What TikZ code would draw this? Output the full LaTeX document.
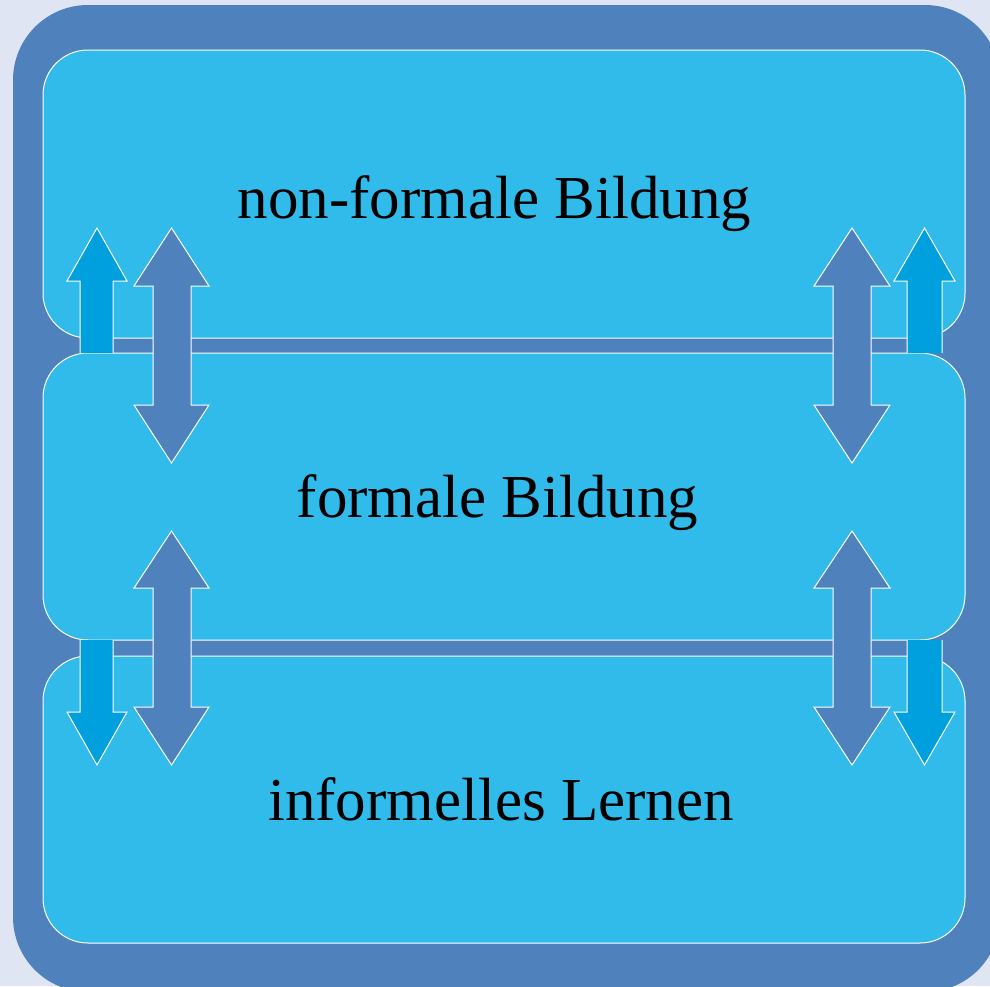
\documentclass[tikz,border=0pt]{standalone}
\usepackage{fontspec}
\setmainfont{Liberation Serif}
\definecolor{bg}{HTML}{DFE5F3}
\definecolor{frame}{HTML}{4F81BD}
\definecolor{boxfill}{HTML}{30BBEA}
\definecolor{lightarr}{HTML}{009FDE}
\begin{document}
\begin{tikzpicture}[x=1pt,y=-1pt,
  box/.style={draw=white, line width=1pt, fill=boxfill, rounded corners=45pt, inner sep=0pt, outer sep=0pt, minimum width=922pt},
  lbl/.style={font=\fontsize{61}{70}\selectfont, anchor=base, inner sep=0pt},
  darr/.style={fill=frame, draw=white, line width=1pt, line join=miter},
  larr/.style={fill=lightarr, draw=white, line width=1pt, line join=miter}]
\useasboundingbox (0,0) rectangle (990,986);
\fill[bg] (0,0) rectangle (990,986);
\begin{scope}
\clip (0,0) rectangle (990,986);
\fill[frame, rounded corners=75pt] (13,5) rectangle (1000,992);
\end{scope}
% boxes
\node[box, minimum height=288pt] (nf) at (504,194) {};
\node[box, minimum height=287pt] (fb) at (504,496.5) {};
\node[box, minimum height=287pt] (il) at (504,799.5) {};
% light single arrows
\filldraw[larr] (80,353) -- (80,281) -- (67,281) -- (97,228) -- (127,281) -- (113,281) -- (113,353);
\filldraw[larr] (907,353) -- (907,281) -- (894,281) -- (924.5,228) -- (955,281) -- (942,281) -- (942,353);
\filldraw[larr] (80,640) -- (80,712) -- (67,712) -- (97,765) -- (127,712) -- (113,712) -- (113,640);
\filldraw[larr] (907,640) -- (907,712) -- (894,712) -- (924.5,765) -- (955,712) -- (942,712) -- (942,640);
% dark double arrows
\filldraw[darr] (153,286) -- (134,286) -- (171.5,228) -- (209,286) -- (191,286) -- (191,405) -- (209,405) -- (171.5,463) -- (134,405) -- (153,405) -- cycle;
\filldraw[darr] (833,286) -- (814,286) -- (852,228) -- (890,286) -- (871,286) -- (871,405) -- (890,405) -- (852,463) -- (814,405) -- (833,405) -- cycle;
\filldraw[darr] (153,588) -- (134,588) -- (171.5,531) -- (209,588) -- (191,588) -- (191,707) -- (209,707) -- (171.5,765) -- (134,707) -- (153,707) -- cycle;
\filldraw[darr] (833,588) -- (814,588) -- (852,531) -- (890,588) -- (871,588) -- (871,707) -- (890,707) -- (852,765) -- (814,707) -- (833,707) -- cycle;
% labels
\node[lbl] (t1) at (494.5,218) {non-formale Bildung};
\node[lbl] (t2) at (497.5,517) {formale Bildung};
\node[lbl] (t3) at (501,820) {informelles Lernen};
\end{tikzpicture}
\end{document}
